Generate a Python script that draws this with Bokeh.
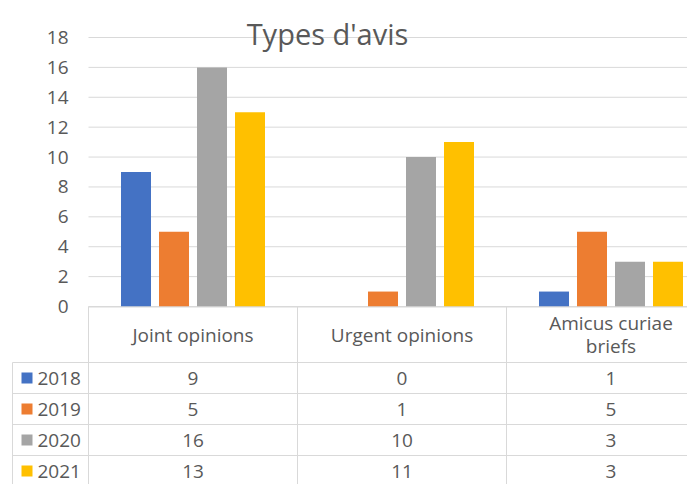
from bokeh.plotting import figure
from bokeh.models import Range1d
from bokeh.core.properties import value
from bokeh.embed import file_html
from bokeh.resources import INLINE

# ---- data ----
categories = ["Joint opinions", "Urgent opinions", "Amicus curiae\nbriefs"]
years = ["2018", "2019", "2020", "2021"]
v2018 = [9, 0, 1]
v2019 = [5, 1, 5]
v2020 = [16, 10, 3]
v2021 = [13, 11, 3]
series = [v2018, v2019, v2020, v2021]
colors = ["#4472C4", "#ED7D31", "#A5A5A5", "#FFC000"]
title_text = "Types d'avis"
y_ticks = [0, 2, 4, 6, 8, 10, 12, 14, 16, 18]

# ---- layout constants (pixels inside the figure) ----
W, H = 687, 484
PLOT_LEFT = 88          # left edge of the plot area / table body
CAT_PX = 209.0          # width of one category column
ZERO_Y = 306            # pixel row (from top) of value 0
TOP_Y = 37              # pixel row (from top) of value 18
UNIT = (ZERO_Y - TOP_Y) / 18.0
HEADER_H = 56
ROW_H = 31
TEXT = "#595959"
GRID = "#d9d9d9"
FONT = "Open Sans"
FS = "19px"

x_start = -PLOT_LEFT / CAT_PX
x_end = (W - PLOT_LEFT) / CAT_PX

p = figure(width=W, height=H,
           x_range=Range1d(x_start, x_end),
           y_range=Range1d(-(H - ZERO_Y) / UNIT, ZERO_Y / UNIT),
           output_backend="svg", toolbar_location=None, min_border=0,
           x_axis_location=None, y_axis_location=None)
p.extra_y_ranges = {"px": Range1d(start=H, end=0)}
p.outline_line_color = None
p.grid.visible = False

n = len(categories)

# gridlines of the value axis
p.segment(x0=[0] * len(y_ticks), y0=y_ticks, x1=[x_end] * len(y_ticks), y1=y_ticks,
          line_color=GRID, line_width=1)

# value axis labels
p.text(x=[-20 / CAT_PX] * len(y_ticks), y=y_ticks, text=[str(v) for v in y_ticks],
       text_align="right", text_baseline="middle", text_font=value(FONT),
       text_font_size=FS, text_color=TEXT)

# bars
bw = 30 / CAT_PX
step = 38 / CAT_PX
for j, (vals, c) in enumerate(zip(series, colors)):
    xs = [i + 0.5 + (j - 1.5) * step for i in range(n)]
    p.vbar(x=xs, top=vals, bottom=0, width=bw, fill_color=c, line_color=None)

# title
p.text(x=[(327 - PLOT_LEFT) / CAT_PX], y=[33], text=[title_text], y_range_name="px",
       text_align="center", text_baseline="alphabetic", text_font=value(FONT),
       text_font_size="29px", text_color=TEXT)

# ---- data table ----
key_left = (12 - PLOT_LEFT) / CAT_PX
row_tops = [ZERO_Y + HEADER_H + k * ROW_H for k in range(len(years))]
row_mid = [r + ROW_H / 2 for r in row_tops]

x0s, y0s, x1s, y1s = [], [], [], []
x0s.append(0); y0s.append(ZERO_Y + 0.5); x1s.append(x_end); y1s.append(ZERO_Y + 0.5)
for r in row_tops:
    x0s.append(key_left); y0s.append(r); x1s.append(x_end); y1s.append(r)
x0s.append(key_left); y0s.append(ZERO_Y + HEADER_H); x1s.append(key_left); y1s.append(H)
for i in range(n):
    x0s.append(i); y0s.append(ZERO_Y); x1s.append(i); y1s.append(H)
p.segment(x0=x0s, y0=y0s, x1=x1s, y1=y1s, y_range_name="px", line_color=GRID, line_width=1)

p.text(x=[i + 0.5 for i in range(n)], y=[ZERO_Y + HEADER_H / 2] * n, text=categories,
       y_range_name="px", text_align="center", text_baseline="middle",
       text_font=value(FONT), text_font_size=FS, text_color=TEXT, text_line_height=0.88)

key_x = (26.5 - PLOT_LEFT) / CAT_PX
p.rect(x=[key_x] * len(years), y=row_mid, width=11, height=11, y_range_name="px",
       width_units="screen", height_units="screen", fill_color=colors, line_color=None)
p.text(x=[(37 - PLOT_LEFT) / CAT_PX] * len(years), y=row_mid, text=years, y_range_name="px",
       text_align="left", text_baseline="middle", text_font=value(FONT),
       text_font_size=FS, text_color=TEXT)

vx, vy, vt = [], [], []
for j, vals in enumerate(series):
    for i, v in enumerate(vals):
        vx.append(i + 0.5); vy.append(row_mid[j]); vt.append(str(v))
p.text(x=vx, y=vy, text=vt, y_range_name="px", text_align="center", text_baseline="middle",
       text_font=value(FONT), text_font_size=FS, text_color=TEXT)

open("out.html", "w").write(file_html(p, INLINE))
